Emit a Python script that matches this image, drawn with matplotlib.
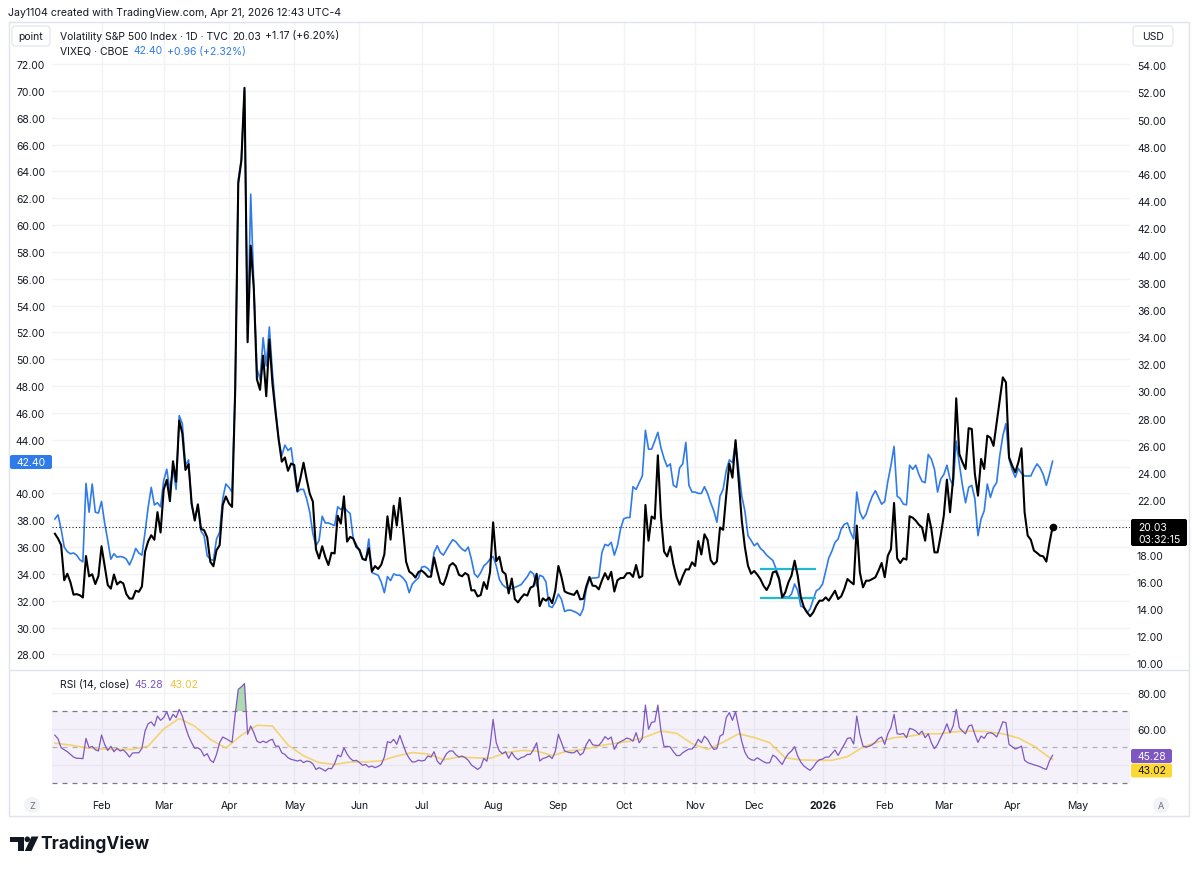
import numpy as np
import pandas as pd
import matplotlib
matplotlib.use("Agg")
import matplotlib.pyplot as plt
from matplotlib.patches import FancyBboxPatch, Polygon, Circle, Rectangle
from matplotlib.transforms import Affine2D

plt.rcParams["font.family"] = ["Inter", "DejaVu Sans"]

# sessions without a bar on this chart (17 Feb and 4 Jul 2025 do have bars)
no_bar_days = ["2025-01-20", "2025-04-18", "2025-05-26", "2025-06-19", "2025-09-01",
               "2025-11-27", "2025-12-25", "2026-01-01", "2026-01-19", "2026-02-16",
               "2026-04-03"]
first_session = "2025-01-10"
last_session = "2026-04-21"

# TVC:VIX daily close (right scale)
vix_close = [
    19.54, 19.19, 18.71, 16.12, 16.60, 15.97, 15.06, 15.10, 15.02, 14.85, 17.90, 16.41, 16.56, 15.84, 16.43,
    18.62, 17.21, 15.77, 15.50, 16.54, 15.81, 16.02, 15.89, 15.10, 14.77, 14.77, 15.35, 15.27, 15.66, 18.21, 18.98, 19.43, 19.10, 21.13, 19.63,
    22.78, 23.51, 21.93, 24.87, 23.37, 27.86, 26.92, 24.23, 24.66, 21.77, 20.51, 21.70, 19.90, 19.80, 19.28, 17.48, 17.15, 18.33, 18.69, 21.65, 22.28,
    21.77, 21.51, 30.02, 45.31, 46.98, 52.33, 33.62, 40.72, 37.56, 30.89, 30.12, 32.64, 29.65, 33.82, 30.57, 28.45, 26.47, 24.84, 25.15, 24.17, 24.70,
    24.60, 22.68, 23.64, 24.76, 23.55, 22.48, 21.90, 18.39, 17.72, 18.62, 17.83, 17.24, 18.14, 18.09, 20.87, 20.28, 22.29, 18.96, 19.31, 19.18, 18.57,
    18.36, 17.69, 17.61, 18.48, 16.77, 17.16, 16.95, 17.26, 18.02, 20.82, 19.11, 21.60, 20.14, 22.17, 19.83, 17.48, 16.76, 16.59, 16.32, 16.73,
    16.83, 16.64, 16.38, 16.38, 17.79, 16.81, 15.94, 15.78, 16.40, 17.20, 17.38, 17.16, 16.52, 16.41, 16.65, 16.50, 15.37, 15.39, 14.93, 15.03, 15.98, 15.48, 16.72,
    20.38, 17.52, 17.85, 16.77, 16.57, 15.15, 16.25, 14.73, 14.49, 14.83, 15.09, 14.99, 15.57, 15.69, 16.60, 14.22, 14.79, 14.62, 14.85, 14.43, 15.36,
    17.17, 16.35, 15.30, 15.18, 15.11, 15.04, 15.35, 14.71, 14.76, 15.69, 16.36, 15.72, 15.70, 15.45, 16.10, 16.64, 16.18, 16.74, 15.29, 16.12, 16.28,
    16.29, 16.63, 16.65, 16.37, 17.24, 16.30, 16.43, 21.66, 19.03, 20.81, 20.64, 25.31, 20.78, 18.23, 17.87, 18.60, 17.30, 16.37, 15.79, 16.42, 16.92, 16.91, 17.44,
    17.17, 19.00, 18.01, 19.50, 19.08, 17.60, 17.28, 17.51, 20.00, 19.83, 22.38, 24.69, 23.66, 26.42, 23.43, 20.52, 18.56, 17.19, 16.60,
    16.80, 16.53, 16.20, 15.72, 15.40, 15.84, 16.70, 16.78, 16.21, 14.86, 15.23, 15.97, 16.46, 17.56, 16.46, 14.86, 14.13, 13.76, 13.47, 13.76, 14.25, 14.62,
    14.62, 14.86, 14.62, 14.98, 15.35, 14.74, 14.94, 15.48, 16.21, 16.00, 15.82, 20.14, 16.70, 15.60, 16.09, 16.09, 16.21, 16.34, 16.83, 17.39,
    16.34, 17.93, 18.40, 21.80, 17.73, 17.39, 17.73, 17.64, 20.82, 20.72, 20.50, 20.20, 20.00, 19.03, 20.99, 19.89, 18.17, 18.17, 19.40,
    20.87, 23.52, 21.12, 23.57, 29.50, 25.40, 24.80, 24.30, 27.30, 27.24, 23.93, 22.34, 25.04, 24.30, 26.75, 26.60, 26.00, 27.70, 29.45, 31.04, 30.67, 25.16,
    24.55, 24.06, 24.79, 25.82, 21.12, 19.40, 19.10, 18.30, 18.13, 17.93, 17.88, 17.49, 18.86, 20.03,
]

# CBOE:VIXEQ daily close (left scale)
vixeq_close = [
    38.1, 38.4, 37.35, 36.0, 35.66, 35.5, 35.56, 35.4, 35.06, 34.9, 40.75, 38.6, 40.7, 38.6, 38.54,
    39.4, 37.8, 36.5, 35.1, 35.5, 35.25, 35.3, 35.25, 35.1, 34.67, 35.2, 35.9, 35.56, 35.4, 37.1, 38.96, 40.45, 39.14, 39.3, 39.0,
    40.95, 41.8, 40.2, 41.9, 40.3, 45.8, 45.2, 42.1, 42.5, 39.1, 38.1, 39.1, 37.2, 36.85, 35.35, 35.1, 35.0, 36.6, 37.1, 39.6, 40.7,
    40.45, 40.1, 47.6, 63.4, 64.9, 70.0, 51.5, 62.3, 55.5, 49.3, 48.5, 51.6, 49.5, 52.4, 49.0, 46.3, 44.0, 42.8, 43.6, 43.2, 43.4,
    41.6, 40.1, 40.3, 40.3, 39.6, 38.6, 37.0, 36.1, 36.5, 38.3, 37.8, 37.8, 37.7, 37.6, 39.0, 38.8, 39.0, 38.7, 38.5, 36.6, 36.2,
    35.7, 35.1, 35.0, 36.6, 34.1, 34.0, 33.9, 33.4, 32.6, 33.8, 33.5, 34.0, 33.9, 33.9, 33.7, 33.4, 32.6, 33.25, 33.5, 33.7,
    34.5, 34.56, 34.4, 34.1, 35.6, 36.1, 35.6, 35.4, 35.8, 36.2, 36.55, 36.4, 36.1, 35.85, 35.7, 36.0, 35.1, 34.0, 33.75, 34.1, 34.6, 34.8, 35.1,
    35.3, 34.6, 33.6, 33.2, 33.0, 32.9, 32.9, 33.0, 33.1, 33.2, 33.5, 33.8, 34.2, 34.0, 33.1, 33.9, 33.8, 33.4, 31.6, 31.5, 31.9,
    32.5, 32.1, 31.2, 31.3, 31.3, 31.2, 31.1, 30.9, 31.4, 32.9, 33.6, 33.7, 33.7, 33.75, 35.6, 36.2, 36.1, 36.35, 35.4, 36.1, 37.35,
    38.1, 38.2, 38.2, 40.5, 40.3, 40.8, 41.3, 44.7, 43.3, 43.3, 43.9, 44.55, 43.4, 42.6, 42.0, 42.2, 40.6, 40.45, 41.9, 42.2, 43.8, 40.6, 40.1,
    40.1, 40.0, 40.0, 40.5, 40.0, 39.3, 38.7, 37.85, 39.8, 40.3, 41.7, 42.5, 42.3, 43.8, 41.8, 39.8, 38.7, 36.85, 36.5,
    36.1, 36.3, 35.9, 35.7, 35.4, 35.2, 35.0, 34.4, 33.75, 32.4, 32.3, 32.25, 32.5, 33.25, 32.75, 31.6, 31.5, 31.1, 31.4, 32.1, 32.75, 32.9,
    33.25, 34.2, 35.2, 35.7, 36.35, 36.6, 37.35, 37.7, 37.8, 37.1, 36.6, 40.1, 38.6, 38.1, 38.45, 39.2, 39.8, 40.2, 39.7, 39.2,
    39.4, 40.9, 42.1, 43.5, 39.8, 39.6, 39.2, 39.15, 42.1, 41.8, 42.1, 41.4, 40.9, 40.8, 42.9, 42.56, 41.8, 40.1, 41.07,
    41.4, 42.1, 41.07, 40.6, 43.9, 42.2, 40.6, 39.3, 40.45, 40.6, 39.6, 36.85, 38.1, 38.7, 40.7, 39.7, 40.45, 40.8, 42.8, 44.3, 45.2, 42.56,
    41.76, 41.2, 41.86, 41.5, 41.3, 41.3, 41.3, 41.8, 42.2, 41.9, 41.4, 40.6, 41.44, 42.40,
]

# RSI (14, close) of VIX
rsi_values = [
    56.5, 54.5, 49.5, 48.4, 47.3, 45.8, 44.3, 43.6, 43.6, 43.4, 54.7, 49.5, 50.3, 48.4, 47.7,
    56.6, 51.4, 48.0, 50.3, 47.3, 49.2, 47.7, 48.3, 46.6, 44.3, 46.6, 46.7, 46.7, 49.2, 58.8, 62.9, 63.9, 61.6, 67.2, 64.8,
    66.3, 69.6, 64.8, 68.1, 66.3, 70.9, 67.2, 61.1, 56.0, 52.3, 49.2, 49.5, 48.2, 44.9, 46.2, 42.6, 41.3, 45.8, 52.3, 55.5, 54.6,
    53.6, 52.5, 68.0, 82.1, 83.5, 85.3, 57.0, 61.6, 57.9, 53.2, 52.3, 53.2, 52.3, 53.6, 54.2, 50.4, 50.4, 46.7, 45.8, 43.9, 43.0,
    42.6, 42.1, 42.6, 41.2, 42.1, 41.8, 40.5, 37.4, 38.4, 37.6, 36.5, 38.0, 37.8, 40.6, 45.4, 44.5, 49.5, 46.0, 43.6, 42.2, 42.5,
    41.2, 39.7, 40.2, 38.7, 39.3, 38.4, 39.1, 40.2, 44.3, 52.9, 52.3, 54.2, 51.4, 56.4, 51.4, 46.7, 43.6, 41.5, 41.7, 42.6,
    42.1, 42.5, 44.9, 44.3, 47.3, 42.1, 40.2, 43.0, 46.2, 47.7, 47.7, 45.6, 44.3, 44.9, 44.0, 42.5, 39.9, 38.7, 37.4, 38.7, 43.5, 42.0, 50.5,
    65.3, 52.3, 47.7, 46.2, 47.3, 43.6, 46.9, 44.3, 42.8, 44.0, 44.5, 45.8, 45.8, 48.5, 52.3, 42.1, 43.5, 44.0, 45.0, 43.5, 47.5,
    57.0, 52.3, 47.7, 47.1, 46.7, 46.7, 48.0, 45.4, 46.7, 51.4, 54.2, 51.2, 50.8, 50.8, 52.9, 55.7, 54.2, 55.5, 48.6, 51.9, 52.9,
    53.8, 54.9, 54.4, 53.2, 57.9, 52.3, 54.7, 73.3, 59.8, 63.7, 64.0, 73.3, 58.8, 50.1, 50.3, 49.9, 47.3, 45.2, 45.1, 46.7, 47.8, 48.8, 48.8,
    50.8, 54.2, 52.3, 55.9, 54.2, 51.0, 48.6, 49.0, 56.0, 57.0, 66.3, 69.1, 64.8, 69.6, 61.0, 53.0, 47.0, 44.0, 42.8,
    42.5, 43.9, 42.8, 41.7, 41.0, 41.2, 45.4, 44.3, 42.1, 40.2, 43.6, 46.2, 47.7, 50.1, 44.9, 41.5, 39.3, 38.0, 36.9, 38.7, 41.3, 42.8,
    43.2, 44.3, 44.3, 46.2, 48.2, 45.2, 48.4, 51.4, 54.7, 55.1, 51.6, 67.2, 57.0, 50.4, 49.9, 50.3, 51.2, 52.7, 54.6, 55.5,
    51.4, 57.3, 60.7, 68.1, 57.3, 57.0, 57.5, 55.1, 60.3, 59.8, 58.8, 57.0, 58.8, 55.1, 57.3, 52.3, 49.0, 51.4, 55.1,
    58.5, 62.9, 57.9, 61.6, 70.9, 60.7, 58.8, 57.3, 61.6, 62.2, 57.0, 52.5, 56.0, 54.7, 57.5, 57.9, 57.2, 55.5, 59.4, 64.0, 63.5, 51.4,
    50.1, 48.8, 49.5, 50.4, 42.5, 41.2, 40.6, 40.0, 39.5, 38.9, 38.0, 37.4, 42.1, 45.28,
]

# RSI moving average, read every 5th bar plus the last bar
rsi_ma_step = 5
rsi_ma_values = [
    52.0, 51.0, 49.5, 48.8, 48.6, 48.6, 50.4, 60.0, 65.8, 61.5, 54.2, 49.3, 56.5,
    62.0, 61.6, 51.0, 45.0, 41.2, 40.2, 41.5, 41.6, 42.2, 44.9, 46.8, 46.0, 42.8,
    44.3, 43.9, 43.6, 46.7, 48.0, 47.7, 45.1, 47.7, 48.5, 50.5, 51.9, 53.2, 55.5,
    58.8, 57.6, 51.8, 48.6, 52.6, 57.3, 55.2, 52.3, 43.9, 42.7, 42.5, 42.5, 44.5,
    49.9, 52.8, 55.1, 56.0, 57.3, 57.3, 58.5, 58.8, 58.5, 57.3, 54.9, 50.4, 44.0,
    43.02,
]

# two horizontal lines drawn by the author in December
drawn_levels = [16.95, 14.82]
drawn_from, drawn_to = "2025-12-03", "2025-12-30"

TEXT = "#131722"
GRID = "#f2f3f7"
BLUE = "#2f7bea"
PURPLE = "#7e57c2"
YELLOW = "#f2cf5b"
W, H = 1200, 870

bars = pd.bdate_range(first_session, last_session, freq="C", holidays=no_bar_days)
cal = pd.bdate_range(first_session, "2026-05-29", freq="C", holidays=no_bar_days + ["2026-05-25"])
for name, s in [("vix", vix_close), ("vixeq", vixeq_close), ("rsi", rsi_values)]:
    if len(s) != len(bars):
        raise ValueError(f"{name}: {len(s)} values for {len(bars)} bars")

x = np.arange(len(bars))
vix = np.array(vix_close)
vixeq = np.array(vixeq_close)
rsi = np.array(rsi_values)
ma_x = list(range(0, len(bars), rsi_ma_step)) + [len(bars) - 1]
if len(ma_x) != len(rsi_ma_values):
    raise ValueError(f"ma: {len(rsi_ma_values)} values for {len(ma_x)} points")

# first bar of every month (skip the partial first month)
mkey = cal.year * 12 + cal.month
starts = np.flatnonzero(np.r_[True, np.diff(mkey) != 0])[1:]
tick_labels = [str(d.year) if d.month == 1 else d.strftime("%b") for d in cal[starts]]

fig = plt.figure(figsize=(W / 100, H / 100), dpi=100)
fig.patch.set_facecolor("white")
px = Affine2D().scale(1 / W, -1 / H).translate(0, 1) + fig.transFigure

PL, PR = 52, 1130
MT, MB = 23, 671
RT, RB = 671, 795
bar_w = 3.108
x0_px = 54.9
xlim = ((PL - x0_px) / bar_w, (PR - x0_px) / bar_w)

ax = fig.add_axes([PL / W, 1 - MB / H, (PR - PL) / W, (MB - MT) / H])
ax2 = ax.twinx()
axr = fig.add_axes([PL / W, 1 - RB / H, (PR - PL) / W, (RB - RT) / H], sharex=ax)

for a in (ax, ax2, axr):
    for sp in a.spines.values():
        sp.set_visible(False)
    a.tick_params(length=0, labelsize=7.5, colors=TEXT)

ax.set_xlim(*xlim)
ax.set_xticks(starts)
ax.tick_params(axis="x", labelbottom=False)


def scale_labels(vals, hidden):
    # a scale label that sits under a last-value tag is not shown
    return ["" if abs(v - hidden) < 1e-9 else f"{v:.2f}" for v in vals]


# main pane
left_ticks = np.arange(28, 73, 2)
right_ticks = np.arange(10, 55, 2)
ax.set_ylim(26.84, 75.13)
ax.set_yticks(left_ticks)
ax.set_yticklabels(scale_labels(left_ticks, 42))
ax.tick_params(axis="y", pad=5)
ax2.set_ylim(9.52, 57.17)
ax2.set_yticks(right_ticks)
ax2.set_yticklabels(scale_labels(right_ticks, 20))
ax2.tick_params(axis="y", pad=5)
ax.grid(True, color=GRID, lw=1)
ax.set_axisbelow(True)

ax.plot(x, vixeq, color=BLUE, lw=1.2, solid_joinstyle="round")
ax2.plot(x, vix, color="black", lw=1.5, solid_joinstyle="round", zorder=3)
ax2.plot(x[-1], vix[-1], "o", color="black", ms=4.5, zorder=4)
ax2.axhline(vix[-1], color=TEXT, lw=0.8, ls=(0, (1, 2)))
d0, d1 = bars.get_loc(pd.Timestamp(drawn_from)), bars.get_loc(pd.Timestamp(drawn_to))
ax2.hlines(drawn_levels, d0, d1, color="#22b8cf", lw=1.6, zorder=2)

# RSI pane
rsi_ticks = [40, 60, 80]
axr.set_ylim(23.7, 92.87)
axr.yaxis.tick_right()
axr.set_yticks(rsi_ticks)
axr.set_yticklabels(scale_labels(rsi_ticks, 40))
axr.tick_params(axis="y", pad=5)
axr.set_xticks(starts)
axr.set_xticklabels(tick_labels)
axr.tick_params(axis="x", pad=4.5)
for lab in axr.get_xticklabels():
    if lab.get_text().isdigit():
        lab.set_fontweight("bold")
axr.grid(True, color=GRID, lw=1)
axr.set_axisbelow(True)
axr.axhspan(30, 70, color=PURPLE, alpha=0.08, lw=0)
for lvl, al in [(70, 1.0), (50, 0.55), (30, 1.0)]:
    axr.axhline(lvl, color="#787b86", lw=0.9, ls=(0, (4, 4)), alpha=al)
axr.fill_between(x, rsi, 70, where=rsi > 70, interpolate=True, color="#4caf50", alpha=0.45, lw=0)
axr.plot(ma_x, rsi_ma_values, color=YELLOW, lw=1.2, alpha=0.85)
axr.plot(x, rsi, color=PURPLE, lw=0.9)


def box(x0, y0, w, h, fc, ec="none", r=2.5):
    fig.add_artist(FancyBboxPatch((x0, y0), w, h, boxstyle=f"round,pad=0,rounding_size={r}",
                                  transform=px, fc=fc, ec=ec, lw=0.8))


def label(xp, yp, s, **kw):
    kw.setdefault("fontsize", 7.5)
    kw.setdefault("color", TEXT)
    kw.setdefault("va", "center")
    fig.text(xp, yp, s, transform=px, **kw)


# frame and pane separator
fig.add_artist(Rectangle((9, 23), 1180, 794, transform=px, fc="none", ec="#e0e3eb", lw=1))
fig.add_artist(Rectangle((9, 670.5), 1180, 0.01, transform=px, fc="none", ec="#e0e3eb", lw=1))

label(8.5, 13.5, "Jay1104 created with TradingView.com, Apr 21, 2026 12:43 UTC-4", fontsize=7.6)

# legends
chg = vix[-1] - vix[-2]
label(60.5, 36.5, "Volatility S&P 500 Index · 1D · TVC")
label(232, 36.5, f"{vix[-1]:.2f}")
label(265, 36.5, f"{chg:+.2f} ({chg / vix[-2] * 100:+.2f}%)")
chg2 = vixeq[-1] - vixeq[-2]
label(60.5, 51.5, "VIXEQ · CBOE")
label(133, 51.5, f"{vixeq[-1]:.2f}", color=BLUE)
label(167, 51.5, f"{chg2:+.2f} ({chg2 / vixeq[-2] * 100:+.2f}%)", color=BLUE)
label(60, 685, "RSI (14, close)")
label(134.5, 685, f"{rsi[-1]:.2f}", color=PURPLE)
label(169, 685, f"{rsi_ma_values[-1]:.2f}", color="#f0c33c")

# scale headers
box(12, 27, 38, 20, "white", "#e0e3eb", 3)
label(31, 37, "point", ha="center")
box(1133, 27, 40, 20, "white", "#e0e3eb", 3)
label(1153, 37, "USD", ha="center")

# last value tags
box(10, 456, 42, 14, BLUE, r=2)
label(31, 463, f"{vixeq[-1]:.2f}", color="white", ha="center")
box(1131, 520, 56, 27, "black", r=2)
label(1138, 528.3, f"{vix[-1]:.2f}", color="white")
label(1138, 540, "03:32:15", color="white")
box(1131, 750, 41, 14, PURPLE, r=2)
label(1137.5, 757, f"{rsi[-1]:.2f}", color="white")
box(1131, 764.5, 41, 14, "#fdd835", r=2)
label(1137.5, 771.5, f"{rsi_ma_values[-1]:.2f}", color=TEXT)

# time axis buttons
for cx, s in [(32, "Z"), (1161, "A")]:
    fig.add_artist(Circle((cx, 806), 8, transform=px, fc="#f2f3f7", ec="none"))
    label(cx, 806.5, s, ha="center", color="#6a6d78", fontsize=6.5)

# TradingView mark
fig.add_artist(Polygon([(9.5, 837.5), (23.5, 837.5), (23.5, 852), (17.5, 852), (17.5, 843), (9.5, 843)],
                       closed=True, transform=px, fc=TEXT, ec="none"))
fig.add_artist(Circle((27.3, 840.3), 2.8, transform=px, fc=TEXT, ec="none"))
fig.add_artist(Polygon([(31.5, 837.5), (38.5, 837.5), (31.5, 852), (24.8, 852)],
                       closed=True, transform=px, fc=TEXT, ec="none"))
label(40, 844.5, "TradingView", fontsize=12.5, fontweight="bold")

fig.savefig("out.png", dpi=100, facecolor="white")
